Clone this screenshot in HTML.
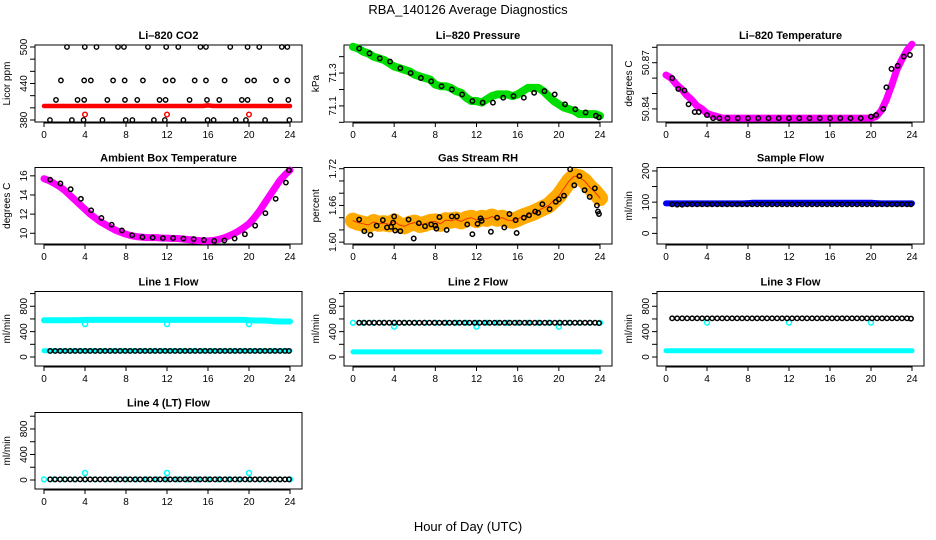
<!DOCTYPE html>
<html><head><meta charset="utf-8"><style>
html,body{margin:0;padding:0;background:#fff;}
svg{display:block;font-family:"Liberation Sans",sans-serif;}
</style></head><body>
<svg id="chart" width="936" height="540" viewBox="0 0 936 540" xmlns="http://www.w3.org/2000/svg">
<rect x="0" y="0" width="936" height="540" fill="#fff"/>
<text x="468" y="14" font-size="13" text-anchor="middle">RBA_140126  Average Diagnostics</text>
<text x="468" y="531" font-size="13" text-anchor="middle">Hour of Day (UTC)</text>
<g id="plots"></g>
</svg>
<script>
// ---------- data ----------
const hours = [0,0.5,1,1.5,2,2.5,3,3.5,4,4.5,5,5.5,6,6.5,7,7.5,8,8.5,9,9.5,10,10.5,11,11.5,12,12.5,13,13.5,14,14.5,15,15.5,16,16.5,17,17.5,18,18.5,19,19.5,20,20.5,21,21.5,22,22.5,23,23.5,24];
const hourly = [0,1,2,3,4,5,6,7,8,9,10,11,12,13,14,15,16,17,18,19,20,21,22,23,24];
const xTicks = [0,4,8,12,16,20,24];

const co2Red = [403,403,403,403,403,403,403,403,403,403,403,403,403,403,403,403,403,403,403,403,403,403,403,403,403,403,403,403,403,403,403,403,404,403,403,403,403,403,403,403,403,403,403,403,403,403,403,403,403];
const co2RedOutT = [4,12,20];
const co2RedOutV = [389,389,389];
const co2BlackT = [2.24,3.98,5.12,7.22,7.8,10.14,11.92,13.1,15.26,15.8,18.17,19.86,21.0,23.2,23.74,
 1.65,3.92,4.57,6.74,7.87,9.65,11.86,12.57,14.7,15.8,17.62,19.86,20.5,22.64,23.74,
 1.17,3.27,3.92,6.18,7.9,9.1,11.27,11.86,14.2,15.9,17.1,19.3,19.86,22.1,23.84,
 0.58,2.72,3.86,5.7,7.97,8.62,10.72,11.79,13.6,15.96,16.55,18.7,19.7,21.57,23.94];
const co2BlackV = [500,500,500,500,500,500,500,500,500,500,500,500,500,500,500,
 445,445,445,445,445,445,445,445,445,445,445,445,445,445,445,
 413,413,413,413,413,413,413,413,413,413,413,413,413,413,413,
 380,380,380,380,380,380,380,380,380,380,380,380,380,380,380];

const pressGreen = [71.46,71.45,71.43,71.42,71.40,71.39,71.38,71.36,71.34,71.33,71.32,71.31,71.29,71.28,71.27,71.26,71.23,71.22,71.22,71.21,71.19,71.18,71.15,71.13,71.13,71.12,71.14,71.16,71.17,71.17,71.17,71.16,71.17,71.19,71.21,71.21,71.21,71.19,71.16,71.13,71.11,71.09,71.08,71.07,71.05,71.05,71.05,71.05,71.04];
const pressBlack = [71.45,71.42,71.39,71.37,71.33,71.30,71.27,71.25,71.22,71.20,71.17,71.13,71.12,71.12,71.15,71.16,71.15,71.18,71.19,71.17,71.11,71.08,71.06,71.04,71.03];

const tempMagenta = [50.862,50.860,50.856,50.853,50.849,50.846,50.842,50.840,50.837,50.836,50.835,50.834,50.834,50.834,50.834,50.834,50.834,50.834,50.834,50.834,50.834,50.834,50.834,50.834,50.834,50.834,50.834,50.834,50.834,50.834,50.834,50.834,50.834,50.834,50.834,50.834,50.834,50.834,50.834,50.834,50.834,50.835,50.839,50.846,50.855,50.865,50.872,50.878,50.882];
const tempBlackT = [0.6,1.2,1.8,2.2,2.8,3.2,4,4.6,5.2,6,7,8,9,10,11,12,13,14,15,16,17,18,19,20,20.5,21.2,21.5,22,22.6,23.2,23.8];
const tempBlackV = [50.860,50.853,50.852,50.843,50.838,50.838,50.836,50.834,50.834,50.834,50.834,50.834,50.834,50.834,50.834,50.834,50.834,50.834,50.834,50.834,50.834,50.834,50.834,50.835,50.836,50.840,50.854,50.866,50.868,50.874,50.875];

const ambMagenta = [15.7,15.5,15.2,14.9,14.5,14.0,13.5,13.0,12.5,12.0,11.6,11.2,10.9,10.6,10.3,10.1,9.9,9.75,9.65,9.6,9.55,9.55,9.55,9.5,9.5,9.45,9.45,9.4,9.35,9.3,9.25,9.2,9.2,9.25,9.35,9.5,9.7,9.95,10.25,10.6,11.0,11.6,12.3,13.1,13.9,14.7,15.5,16.1,16.6];
const ambBlack = [15.6,15.2,14.6,13.6,12.4,11.6,10.9,10.3,9.8,9.6,9.55,9.5,9.5,9.45,9.4,9.3,9.2,9.25,9.45,9.9,10.8,12.1,13.6,15.3,16.6];

const rhOrange = [1.635,1.632,1.630,1.628,1.633,1.630,1.631,1.629,1.634,1.628,1.626,1.630,1.632,1.628,1.630,1.633,1.634,1.630,1.636,1.635,1.637,1.634,1.638,1.640,1.636,1.640,1.638,1.642,1.638,1.640,1.636,1.635,1.638,1.642,1.645,1.648,1.652,1.656,1.660,1.668,1.676,1.688,1.700,1.708,1.706,1.700,1.690,1.682,1.672];
const rhBlackT = [0.6,1.1,1.7,2.3,2.9,3.3,3.7,3.9,4.0,4.1,4.6,5.4,5.9,6.4,7.0,7.6,8.0,8.1,8.4,9.1,9.6,10.1,11.1,11.6,12.1,12.4,12.5,13.4,14.0,14.7,15.2,15.8,15.9,16.6,17.1,17.7,18.0,18.4,19.1,19.7,20.0,20.5,21.1,21.5,22.0,22.5,23.0,23.5,23.7,23.8,23.9];
const rhBlackV = [1.637,1.618,1.612,1.627,1.636,1.624,1.625,1.632,1.642,1.619,1.618,1.637,1.606,1.631,1.626,1.629,1.627,1.622,1.641,1.620,1.642,1.642,1.629,1.613,1.630,1.639,1.635,1.617,1.640,1.624,1.646,1.636,1.615,1.640,1.644,1.650,1.648,1.662,1.654,1.666,1.670,1.676,1.719,1.693,1.708,1.685,1.674,1.688,1.660,1.650,1.646];

const sampleBlue = [96,96,96,96,96,96,96,96,96,96,96,96,96,96,96,96,97,98,98,98,98,98,98,98,98,98,98,98,98,98,98,98,98,98,98,98,98,98,98,98,98,97,96,96,96,96,96,96,96];
const sampleBlack = [93,92,92,93,93,93,93,93,93,93,93,93,93,93,93,93,93,93,93,93,93,93,93,93,93,93,93,93,93,93,93,93,93,93,93,93,93,93,93,93,93,93,93,93,93,93,93,93,93];

const line1CyanHi = [580,580,580,580,580,580,582,582,585,585,585,585,585,585,585,585,585,585,585,585,585,585,585,585,585,585,585,585,585,585,585,585,585,585,585,585,585,585,585,585,580,575,575,575,570,565,560,560,560];
const line1CyanLo = [100,100,100,100,100,100,100,100,100,100,100,100,100,100,100,100,100,100,100,100,100,100,100,100,100,100,100,100,100,100,100,100,100,100,100,100,100,100,100,100,100,100,100,100,100,100,100,100,100];
const line1Black = [95,95,95,95,95,95,95,95,95,95,95,95,95,95,95,95,95,95,95,95,95,95,95,95,95,95,95,95,95,95,95,95,95,95,95,95,95,95,95,95,95,95,95,95,95,95,95,95,95];
const line1OutV = [520,520,520];
const line2CyanHi = [540,540,540,540,540,540,540,540,540,540,540,540,540,540,540,540,540,540,540,540,540,540,540,540,540];
const line2CyanLo = [80,80,80,80,80,80,80,80,80,80,80,80,80,80,80,80,80,80,80,80,80,80,80,80,80,80,80,80,80,80,80,80,80,80,80,80,80,80,80,80,80,80,80,80,80,80,80,80,80];
const line2Black = [540,540,540,540,540,540,540,540,540,540,540,540,540,540,540,540,540,540,540,540,540,540,540,540,540,540,540,540,540,540,540,540,540,540,540,540,540,540,540,540,540,540,540,540,540,540,540,540,535];
const line2OutV = [480,480,480];
const line3CyanLo = [100,100,100,100,100,100,100,100,100,100,100,100,100,100,100,100,100,100,100,100,100,100,100,100,100,100,100,100,100,100,100,100,100,100,100,100,100,100,100,100,100,100,100,100,100,100,100,100,100];
const line3Black = [610,610,610,610,610,610,610,610,610,610,610,610,610,610,610,610,610,610,610,610,610,610,610,610,610,610,610,610,610,610,610,610,610,610,610,610,610,610,610,610,610,610,610,610,610,610,610,610,605];
const line3OutV = [545,545,545];
const line4Cyan = [10,10,10,10,10,10,10,10,10,10,10,10,10,10,10,10,10,10,10,10,10,10,10,10,10];
const line4Black = [10,10,10,10,10,10,10,10,10,10,10,10,10,10,10,10,10,10,10,10,10,10,10,10,10,10,10,10,10,10,10,10,10,10,10,10,10,10,10,10,10,10,10,10,10,10,10,10,10];
const line4OutV = [110,110,110];
const outT = [4,12,20];

// ---------- layout ----------
const colL = [35, 344, 657];
const colR = [302, 612, 924];
const rowT = [45, 167.5, 291.5, 412.5];
const rowB = [122, 244, 366, 489];
const NS = 'http://www.w3.org/2000/svg';
const root = document.getElementById('plots');

function el(tag, attrs, parent) {
  const e = document.createElementNS(NS, tag);
  for (const k in attrs) e.setAttribute(k, attrs[k]);
  (parent || root).appendChild(e);
  return e;
}

function makePanel(name, col, row, title, ylab, ymin, ymax, ticks, labels) {
  const g = el('g', {});
  
  
  const L = colL[col], R = colR[col], T = rowT[row], B = rowB[row];
  const xs = t => L + 9 + t * (R - L - 21) / 24;
  const ys = v => B - (v - ymin) / (ymax - ymin) * (B - T);
  const box = el('rect', {x: L, y: T, width: R - L, height: B - T, fill: 'none', stroke: '#000', 'stroke-width': 1}, g);
  
  
  const tt = el('text', {x: (L + R) / 2, y: T - 6, 'font-size': 11, 'font-weight': 'bold', 'text-anchor': 'middle'}, g);
  tt.textContent = title;
  
  
  const yl = el('text', {x: 0, y: 0, 'font-size': 10, 'text-anchor': 'middle', transform: `translate(${L - 25},${(T + B) / 2}) rotate(-90)`}, g);
  yl.textContent = ylab;
  
  
  const ax = el('g', {}, g);
  
  
  el('line', {x1: xs(0), x2: xs(24), y1: B + 1, y2: B + 1, stroke: '#000'}, ax);
  xTicks.forEach(t => {
    el('line', {x1: xs(t), x2: xs(t), y1: B, y2: B + 5, stroke: '#000'}, ax);
    const lb = el('text', {x: xs(t), y: B + 16, 'font-size': 10, 'text-anchor': 'middle'}, ax);
    lb.textContent = t;
    
    
  });
  const ay = el('g', {}, g);
  
  
  ticks.forEach(v => {
    el('line', {x1: L - 5, x2: L, y1: ys(v), y2: ys(v), stroke: '#000'}, ay);
  });
  labels.forEach(v => {
    const lb = el('text', {x: 0, y: 0, 'font-size': 10, 'text-anchor': 'middle', transform: `translate(${L - 8},${ys(v)}) rotate(-90)`}, ay);
    lb.textContent = v;
    
    
  });
  const data = el('g', {}, g);
  
  
  return {xs, ys, g: data};
}

function band(p, ts, vs, color, w, sname) {
  const pts = ts.map((t, i) => p.xs(t).toFixed(1) + ',' + p.ys(vs[i]).toFixed(1)).join(' ');
  const pl = el('polyline', {points: pts, fill: 'none', stroke: color, 'stroke-width': w, 'stroke-linecap': 'round', 'stroke-linejoin': 'round'}, p.g);
  
  
}
function pts(p, ts, vs, color, r, sw, sname) {
  const gg = el('g', {}, p.g);
  
  
  ts.forEach((t, i) => {
    const c = el('circle', {cx: p.xs(t), cy: p.ys(vs[i]), r: r, fill: 'none', stroke: color, 'stroke-width': sw}, gg);
    
    
  });
}
const hourly25 = hourly.map(h => Math.min(23.9, h + 0.6));
const half49 = hours.map(h => Math.min(23.9, h * 0.975 + 0.6));

// CO2
let p = makePanel('co2', 0, 0, 'Li\u2013820 CO2', 'Licor ppm', 376.7, 503.3, [380,400,420,440,460,480,500], [380,440,500]);
band(p, hours, co2Red, '#ff0000', 4.5, 'co2-red-band');
pts(p, co2RedOutT, co2RedOutV, '#ff0000', 2.3, 1.5, 'co2-red-outliers');
pts(p, co2BlackT, co2BlackV, '#000', 2.2, 1.4, 'co2-black-points');

// Pressure
p = makePanel('pressure', 1, 0, 'Li\u2013820 Pressure', 'kPa', 71.002, 71.471, [71.0,71.1,71.2,71.3,71.4], ['71.1','71.3']);
band(p, hours, pressGreen, '#00dd00', 8, 'pressure-green-band');
pts(p, hourly25, pressBlack, '#000', 2.2, 1.5, 'pressure-black-points');

// Temperature
p = makePanel('licor-temp', 2, 0, 'Li\u2013820 Temperature', 'degrees C', 50.8315, 50.8815, [50.84,50.85,50.86,50.87,50.88], ['50.84','50.87']);
band(p, hours, tempMagenta, '#ff00ff', 7, 'licor-temp-magenta-band');
pts(p, tempBlackT, tempBlackV, '#000', 2.2, 1.5, 'licor-temp-black-points');

// Ambient
p = makePanel('ambient-temp', 0, 1, 'Ambient Box Temperature', 'degrees C', 8.88, 16.87, [10,12,14,16], [10,12,14,16]);
band(p, hours, ambMagenta, '#ff00ff', 7, 'ambient-magenta-band');
pts(p, hourly25, ambBlack, '#000', 2.2, 1.5, 'ambient-black-points');

// Gas RH
p = makePanel('gas-rh', 1, 1, 'Gas Stream RH', 'percent', 1.597, 1.722, [1.60,1.62,1.64,1.66,1.68,1.70,1.72], ['1.60','1.66','1.72']);
band(p, hours, rhOrange, '#ffaa00', 16, 'gas-rh-orange-band');
band(p, hours, rhOrange, '#ee3300', 1, 'gas-rh-red-trace');
pts(p, rhBlackT, rhBlackV, '#000', 2.2, 1.5, 'gas-rh-black-points');

// Sample flow
p = makePanel('sample-flow', 2, 1, 'Sample Flow', 'ml/min', -34, 211, [0,50,100,150,200], [0,100,200]);
band(p, hours, sampleBlue, '#0000ff', 6, 'sample-blue-band');
pts(p, half49, sampleBlack, '#000', 2.2, 1.5, 'sample-black-points');

const flowTicks = [0,200,400,600,800,1000], flowLabels = [0,400,800];
// Line 1
p = makePanel('line1', 0, 2, 'Line 1 Flow', 'ml/min', -142, 1033, flowTicks, flowLabels);
band(p, hours, line1CyanHi, '#00ffff', 6, 'line1-cyan-high');
band(p, hours, line1CyanLo, '#00ffff', 5, 'line1-cyan-low');
pts(p, outT, line1OutV, '#00ffff', 2.5, 1.5, 'line1-cyan-outliers');
pts(p, half49, line1Black, '#000', 2.2, 1.5, 'line1-black-points');
// Line 2
p = makePanel('line2', 1, 2, 'Line 2 Flow', 'ml/min', -142, 1033, flowTicks, flowLabels);
band(p, hours, line2CyanLo, '#00ffff', 5, 'line2-cyan-low');
pts(p, hourly, line2CyanHi, '#00ffff', 2.4, 1.5, 'line2-cyan-high');
pts(p, outT, line2OutV, '#00ffff', 2.5, 1.5, 'line2-cyan-outliers');
pts(p, half49, line2Black, '#000', 2.2, 1.5, 'line2-black-points');
// Line 3
p = makePanel('line3', 2, 2, 'Line 3 Flow', 'ml/min', -142, 1033, flowTicks, flowLabels);
band(p, hours, line3CyanLo, '#00ffff', 5, 'line3-cyan-low');
pts(p, outT, line3OutV, '#00ffff', 2.5, 1.5, 'line3-cyan-outliers');
pts(p, half49, line3Black, '#000', 2.2, 1.5, 'line3-black-points');
// Line 4
p = makePanel('line4', 0, 3, 'Line 4 (LT) Flow', 'ml/min', -141, 1058, flowTicks, flowLabels);
pts(p, hourly, line4Cyan, '#00ffff', 2.4, 1.5, 'line4-cyan-points');
pts(p, outT, line4OutV, '#00ffff', 2.5, 1.5, 'line4-cyan-outliers');
pts(p, half49, line4Black, '#000', 2.2, 1.5, 'line4-black-points');
</script>
</body></html>
